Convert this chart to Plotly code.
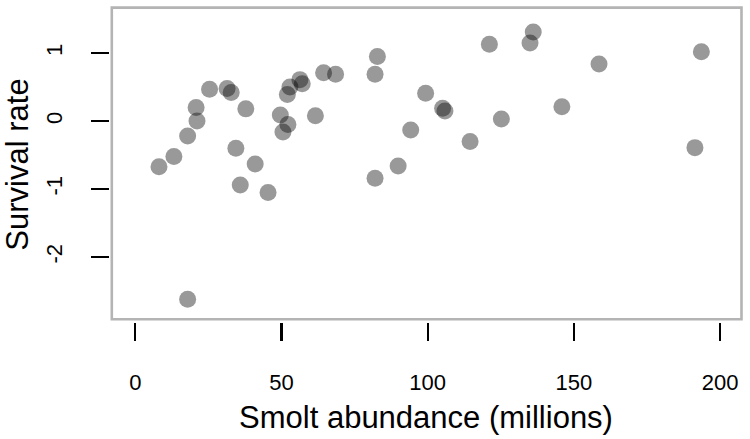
import plotly.graph_objects as go

smolt_abundance = [8.1, 13.2, 17.9, 17.9, 21.1, 20.8, 25.4, 31.4, 32.8, 37.8,
                   34.4, 41.0, 35.9, 45.4, 49.6, 50.5, 52.2, 52.0, 52.9, 56.3,
                   57.1, 61.6, 64.4, 68.5, 82.8, 82.0, 82.0, 89.9, 94.2, 99.3,
                   105.1, 105.9, 114.5, 121.1, 125.2, 135.0, 136.1, 145.9, 158.6,
                   193.6, 191.4]
survival_rate = [-0.67, -0.52, -0.22, -2.62, 0.00, 0.20, 0.47, 0.48, 0.42, 0.18,
                 -0.40, -0.63, -0.94, -1.05, 0.09, -0.16, -0.05, 0.39, 0.50, 0.61,
                 0.55, 0.08, 0.71, 0.69, 0.95, 0.69, -0.84, -0.66, -0.13, 0.41,
                 0.19, 0.15, -0.30, 1.13, 0.03, 1.15, 1.31, 0.21, 0.84,
                 1.02, -0.39]
x_ticks = [0, 50, 100, 150, 200]
y_ticks = [-2, -1, 0, 1]

FONT = "Liberation Sans, Arial, Helvetica, sans-serif"

fig = go.Figure(go.Scatter(
    x=smolt_abundance, y=survival_rate, mode="markers",
    marker=dict(size=17, color="rgba(0,0,0,0.4)", line=dict(width=0)),
    hoverinfo="skip",
))

L, R, T, B = 110, 8, 7, 117
W, H = 750, 439
pw, ph = W - L - R, H - T - B

def px_x(p):
    return (p - L) / pw

def px_y(p):
    return (H - B - p) / ph

fig.add_shape(type="rect", xref="paper", yref="paper",
              x0=px_x(111.8), x1=px_x(741.5), y0=px_y(319.2), y1=px_y(7.6),
              line=dict(color="#b4b4b4", width=2.6), fillcolor="rgba(0,0,0,0)",
              layer="below")

fig.update_layout(
    width=W, height=H,
    margin=dict(l=L, r=R, t=T, b=B, autoexpand=False),
    paper_bgcolor="white", plot_bgcolor="white",
    showlegend=False,
    font=dict(family=FONT, color="black", size=22),
    xaxis=dict(
        range=[-8.65, 207.5], tickmode="array", tickvals=x_ticks,
        ticktext=[str(v) for v in x_ticks],
        ticks="outside", ticklen=18, tickwidth=2.2, tickcolor="black",
        showline=False, showgrid=False, zeroline=False,
        tickfont=dict(size=22, family=FONT), ticklabelstandoff=23,
        title=dict(text="Smolt abundance (millions)", font=dict(size=31, family=FONT), standoff=11),
        automargin=False,
    ),
    yaxis=dict(
        range=[-2.954, 1.678], tickmode="array", tickvals=y_ticks,
        ticktext=[str(v) for v in y_ticks], tickangle=-90,
        ticks="outside", ticklen=18, tickwidth=2.2, tickcolor="black",
        showline=False, showgrid=False, zeroline=False,
        tickfont=dict(size=22, family=FONT), ticklabelstandoff=20,
        title=dict(text="Survival rate", font=dict(size=31, family=FONT), standoff=6),
        automargin=False,
    ),
)

fig.write_html("out.html", config={"displayModeBar": False, "staticPlot": True},
               post_script="document.body.style.margin='0';document.body.style.overflow='hidden';")
